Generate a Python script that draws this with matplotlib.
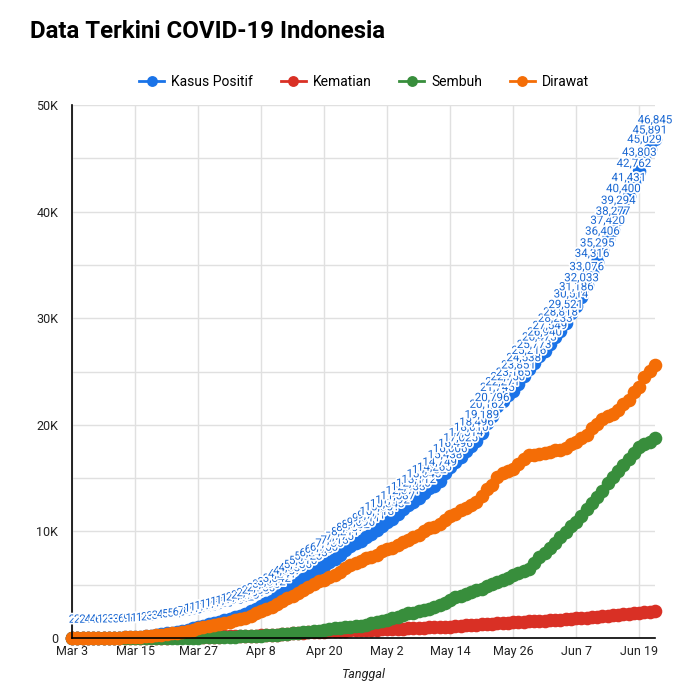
import numpy as np
import pandas as pd
import matplotlib
matplotlib.use("Agg")
import matplotlib.pyplot as plt
import matplotlib.patheffects as pe
from matplotlib.ticker import FuncFormatter, MultipleLocator

plt.rcParams['font.family'] = ['Roboto', 'DejaVu Sans']

# data harian 3 Maret - 22 Juni 2020
tanggal_awal = '2020-03-03'

kasus_positif = [
    2, 2, 2, 4, 4, 6, 19, 27, 34, 34, 69, 96, 117, 134, 172, 227, 309, 369, 450, 514,
    579, 686, 790, 893, 1046, 1155, 1285, 1414, 1528,
    1677, 1790, 1986, 2092, 2273, 2491, 2738, 2956, 3293, 3512, 3842, 4241, 4557, 4839,
    5136, 5516, 5923, 6248, 6575, 6760, 7135, 7418, 7775, 8211, 8607, 8882, 9096, 9511,
    9771, 10118,
    10551, 10843, 11192, 11587, 12071, 12438, 12776, 13112, 13645, 14032, 14265, 14749,
    15438, 16006, 16496, 17025, 17514, 18010, 18496, 19189, 20162, 20796, 21745, 22271,
    22750, 23165, 23851, 24538, 25216, 25773, 26473,
    26940, 27549, 28233, 28818, 29521, 30514, 31186, 32033, 33076, 34316, 35295, 36406,
    37420, 38277, 39294, 40400, 41431, 42762, 43803, 45029, 45891, 46845,
]

kematian = [
    0, 0, 0, 0, 0, 0, 0, 0, 1, 1, 4, 5, 5, 5, 5, 19, 25, 32, 38, 48, 49, 55, 58, 78,
    87, 102, 114, 122, 136,
    157, 170, 181, 191, 198, 209, 221, 240, 280, 306, 327, 373, 399, 459, 469, 496, 520,
    535, 582, 590, 616, 635, 647, 689, 720, 743, 765, 773, 784, 792,
    800, 831, 845, 864, 872, 895, 930, 959, 973, 991, 1007, 1028, 1043, 1076, 1089, 1148,
    1191, 1221, 1242, 1278, 1326, 1351, 1372, 1391, 1418, 1473, 1496, 1520, 1573, 1601,
    1613,
    1641, 1663, 1698, 1721, 1770, 1801, 1851, 1883, 1923, 1959, 2000, 2048, 2091, 2134,
    2198, 2231, 2276, 2339, 2373, 2429, 2465, 2500,
]

sembuh = [
    0, 0, 0, 0, 0, 0, 0, 0, 0, 0, 3, 8, 8, 8, 9, 11, 15, 16, 20, 29, 30, 30, 31, 35,
    46, 59, 64, 75, 81,
    103, 112, 134, 150, 164, 192, 204, 222, 252, 282, 286, 359, 380, 426, 446, 548, 607,
    631, 686, 747, 842, 913, 960, 1002, 1042, 1107, 1151, 1254, 1391, 1522,
    1591, 1665, 1876, 1954, 2197, 2317, 2381, 2494, 2607, 2698, 2881, 3063, 3287, 3518,
    3803, 3911, 4129, 4324, 4467, 4575, 4838, 5057, 5249, 5402, 5642, 5877, 6057, 6240,
    6492, 7015, 7637,
    7935, 8406, 8892, 9443, 9907, 10498, 10904, 11414, 12129, 12636, 13213, 13776, 14531,
    15123, 15703, 16243, 16798, 17349, 17883, 18160, 18404, 18735,
]

# dirawat = positif - meninggal - sembuh
dirawat = [p - m - s for p, m, s in zip(kasus_positif, kematian, sembuh)]

tanggal = pd.date_range(tanggal_awal, periods=len(kasus_positif), freq='D')
x = matplotlib.dates.date2num(tanggal)

series = [
    ('Kasus Positif', kasus_positif, '#1a73e8'),
    ('Kematian', kematian, '#d93025'),
    ('Sembuh', sembuh, '#388e3c'),
    ('Dirawat', dirawat, '#f46d06'),
]

fig = plt.figure(figsize=(7, 7), dpi=100)
ax = fig.add_axes([72 / 700, 1 - 638 / 700, (655 - 72) / 700, (638 - 105) / 700])

for nama, nilai, warna in series:
    ax.plot(x, nilai, color=warna, lw=2, marker='o', markersize=9.8,
            markeredgewidth=0, label=nama, clip_on=False, zorder=3)

# label angka kasus positif
for xi, v in zip(x, kasus_positif):
    ax.annotate(f'{v:,}', (xi, v), xytext=(0, 13.5), textcoords='offset points',
                ha='center', va='center', fontsize=8.3, color='#1967d2',
                zorder=5, annotation_clip=False,
                path_effects=[pe.withStroke(linewidth=2.5, foreground='white')])

ax.set_xlim(x[0], x[-1])
ax.set_ylim(0, 50000)
ax.yaxis.set_major_locator(MultipleLocator(10000))
ax.yaxis.set_minor_locator(MultipleLocator(5000))
ax.yaxis.set_major_formatter(FuncFormatter(lambda v, p: '0' if v == 0 else f'{int(v / 1000)}K'))

xt = x[::12]
ax.set_xticks(xt)
ax.set_xticklabels([d.strftime('%b %-d') for d in tanggal[::12]])

ax.grid(True, which='both', color='#e0e0e0', lw=1)
ax.set_axisbelow(True)
ax.tick_params(which='both', length=0, labelsize=9, colors='#222222')
ax.tick_params(axis='x', pad=5)
ax.tick_params(axis='y', pad=10)
for s in ['top', 'right']:
    ax.spines[s].set_visible(False)
for s in ['left', 'bottom']:
    ax.spines[s].set_color('black')
    ax.spines[s].set_linewidth(1.2)
    ax.spines[s].set_zorder(4)

ax.set_xlabel('Tanggal', fontsize=9, style='italic', color='#222222', labelpad=7)

fig.text(30 / 700, 1 - 32 / 700, 'Data Terkini COVID-19 Indonesia', fontsize=17.3,
         fontweight='bold', ha='left', va='center')

leg = fig.legend(loc='center', bbox_to_anchor=(364 / 700, 1 - 82 / 700), ncol=4,
                 frameon=False, fontsize=10, handlelength=1.8, columnspacing=2.0,
                 handletextpad=0.5, markerscale=0.8)

fig.savefig('out.png', dpi=100)
